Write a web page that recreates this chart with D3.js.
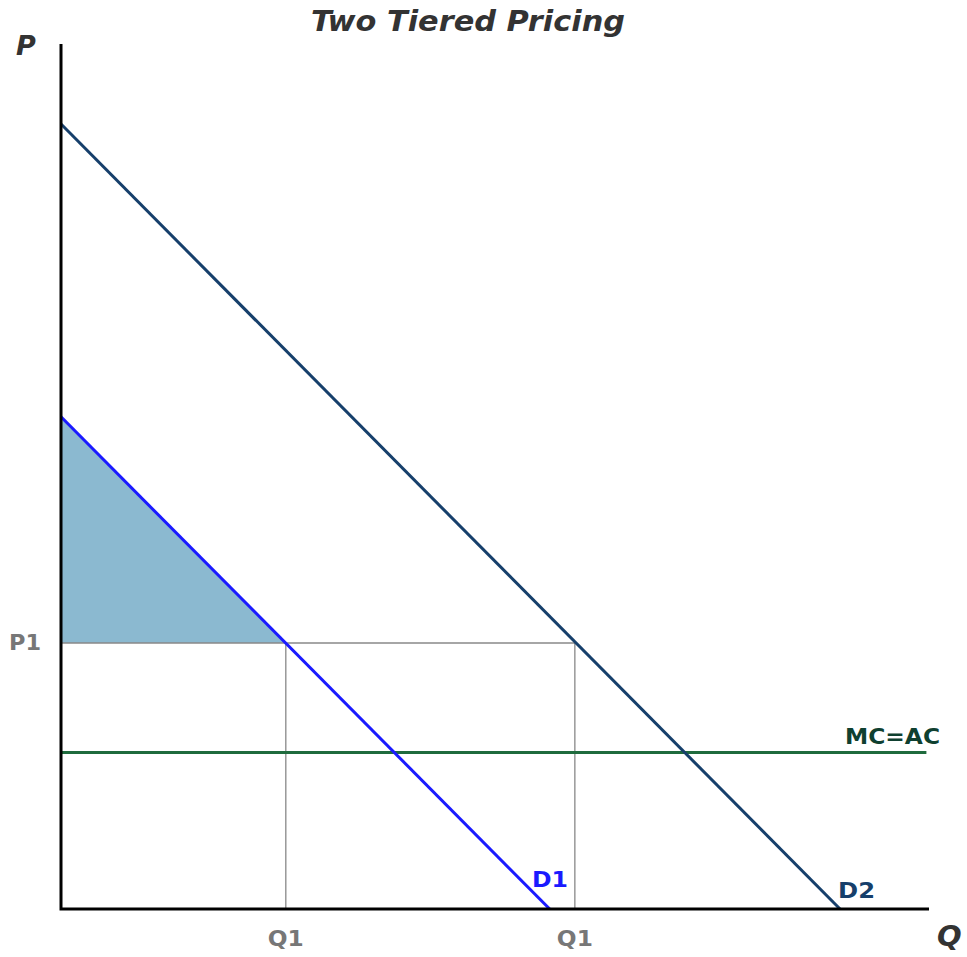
<!DOCTYPE html>
<html>
<head>
<meta charset="utf-8">
<script src="https://cdn.jsdelivr.net/npm/d3@7"></script>
<style>
  body { margin: 0; background: #fff; }
  text { font-family: "DejaVu Sans", Verdana, sans-serif; font-weight: bold; }
</style>
</head>
<body>
<div class="chart"></div>
<script>
// demand curves as [Q, P] end points (0-100 units)
const d1 = [[0, 56.9], [56.3, 0]];
const d2 = [[0, 90.75], [89.75, 0]];
const mc = 18.1;
const p1 = 30.75;
const q1 = [25.9, 59.2];
const curveLabels = ["D1", "D2", "MC=AC"];
const tickLabels = ["P1", "Q1"];

const w = 967;
const h = 957;
const svg = d3.select('.chart')
    .append('svg')
    .attr('width', w)
    .attr('height', h);

const x = d3.scaleLinear().domain([0, 100]).range([61, 929]);
const y = d3.scaleLinear().domain([0, 100]).range([909, 44]);
const line = d3.line().x(d => x(d[0])).y(d => y(d[1]));

//consumer surplus triangle under D1
const surplus = [[0, d1[0][1]], [q1[0], p1], [0, p1]];
svg.append("path")
    .attr("d", line(surplus) + "Z")
    .attr("fill", "#8bb9d0");

//guide lines at P1 / Q1
svg.append("path")
    .attr("d", line([[0, p1], [q1[1], p1]]))
    .attr("stroke", "#888").attr("stroke-width", 1.3).attr("fill", "none");
q1.forEach(q => {
    svg.append("path")
        .attr("d", line([[q, p1], [q, 0]]))
        .attr("stroke", "#888").attr("stroke-width", 1.3).attr("fill", "none");
});

//MC=AC
svg.append("path")
    .attr("d", line([[0, mc], [99.7, mc]]))
    .attr("stroke", "#1f6b3d").attr("stroke-width", 3).attr("fill", "none");

//demand lines
svg.append("path")
    .attr("d", line(d2))
    .attr("stroke", "#163f6b").attr("stroke-width", 3).attr("fill", "none");
svg.append("path")
    .attr("d", line(d1))
    .attr("stroke", "#1a1aff").attr("stroke-width", 3).attr("fill", "none");

//axes
svg.append("path")
    .attr("d", line([[0, 100], [0, 0], [100, 0]]))
    .attr("stroke", "#000").attr("stroke-width", 3).attr("fill", "none");

//text
svg.append("text").text("Two Tiered Pricing")
    .attr("x", 468).attr("y", 31).attr("text-anchor", "middle")
    .attr("font-size", 28).attr("font-style", "italic").attr("fill", "#333")
    .attr("textLength", 314).attr("lengthAdjust", "spacingAndGlyphs");
svg.append("text").text("P")
    .attr("x", 16).attr("y", 55)
    .attr("font-size", 27).attr("font-style", "italic").attr("fill", "#333");
svg.append("text").text("Q")
    .attr("x", 937).attr("y", 946)
    .attr("font-size", 29).attr("font-style", "italic").attr("fill", "#333");

svg.append("text").text(tickLabels[0])
    .attr("x", 9).attr("y", 650)
    .attr("font-size", 21).attr("fill", "#777")
    .attr("textLength", 32).attr("lengthAdjust", "spacingAndGlyphs");
q1.forEach(q => {
    svg.append("text").text(tickLabels[1])
        .attr("x", x(q)).attr("y", 946).attr("text-anchor", "middle")
        .attr("font-size", 21).attr("fill", "#777")
        .attr("textLength", 36).attr("lengthAdjust", "spacingAndGlyphs");
});

svg.append("text").text(curveLabels[0])
    .attr("x", 532).attr("y", 887)
    .attr("font-size", 21).attr("fill", "#1a1aff")
    .attr("textLength", 36).attr("lengthAdjust", "spacingAndGlyphs");
svg.append("text").text(curveLabels[1])
    .attr("x", 838).attr("y", 898)
    .attr("font-size", 21).attr("fill", "#163f6b")
    .attr("textLength", 37).attr("lengthAdjust", "spacingAndGlyphs");
svg.append("text").text(curveLabels[2])
    .attr("x", 845).attr("y", 744)
    .attr("font-size", 21).attr("fill", "#0f4030")
    .attr("textLength", 95).attr("lengthAdjust", "spacingAndGlyphs");
</script>
</body>
</html>
